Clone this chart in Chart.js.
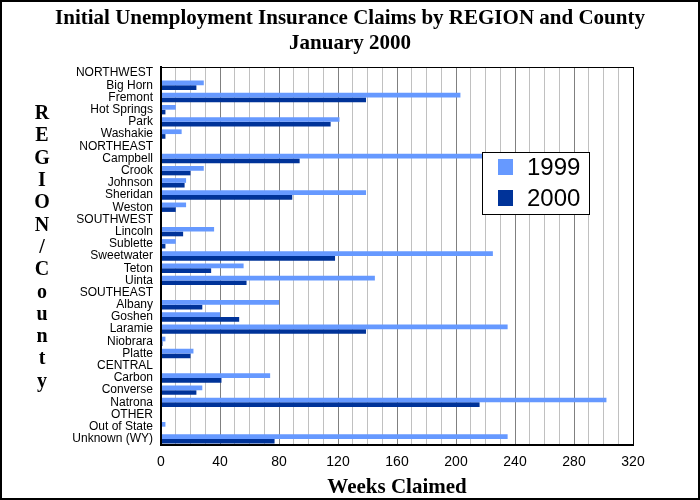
<!DOCTYPE html>
<html lang="en">
<head>
<meta charset="UTF-8">
<title>Initial Unemployment Insurance Claims</title>
<script src="https://cdn.jsdelivr.net/npm/chart.js"></script>
<style>
  body { margin: 0; background: #fff; }
  #grafico { display: block; }
</style>
</head>
<body>
<canvas id="grafico" width="700" height="500"></canvas>
<script>
    // rows of the chart, region headers have no values
    const condados = ['NORTHWEST', 'Big Horn', 'Fremont', 'Hot Springs', 'Park', 'Washakie',
        'NORTHEAST', 'Campbell', 'Crook', 'Johnson', 'Sheridan', 'Weston',
        'SOUTHWEST', 'Lincoln', 'Sublette', 'Sweetwater', 'Teton', 'Uinta',
        'SOUTHEAST', 'Albany', 'Goshen', 'Laramie', 'Niobrara', 'Platte',
        'CENTRAL', 'Carbon', 'Converse', 'Natrona',
        'OTHER', 'Out of State', 'Unknown (WY)'];

    const semanas1999 = [null, 29, 203, 10, 121, 14,
        null, 235, 29, 17, 139, 17,
        null, 36, 10, 225, 56, 145,
        null, 80, 40, 235, 3, 22,
        null, 74, 28, 302,
        null, 3, 235];

    const semanas2000 = [null, 24, 139, 3, 115, 3,
        null, 94, 20, 16, 89, 10,
        null, 15, 3, 118, 34, 58,
        null, 28, 53, 139, 1, 20,
        null, 41, 24, 216,
        null, 0, 77];

    const series = ['1999', '2000'];
    const cores = ['#6699ff', '#003399'];
    const tituloY = 'REGION/County';

    // white background, frame, plot outline, stacked y title, legend
    const fundo = {
        id: 'fundo',
        beforeDraw(chart) {
            const ctx = chart.ctx;
            ctx.save();
            ctx.fillStyle = '#ffffff';
            ctx.fillRect(0, 0, chart.width, chart.height);
            ctx.restore();
        },
        afterDraw(chart) {
            const ctx = chart.ctx;
            const a = chart.chartArea;
            ctx.save();
            ctx.strokeStyle = '#000';
            ctx.lineWidth = 1;
            ctx.strokeRect(a.left + 0.5, a.top + 0.5, a.right - a.left, a.bottom - a.top);
            ctx.lineWidth = 2;
            ctx.strokeRect(1, 1, chart.width - 2, chart.height - 2);

            ctx.fillStyle = '#000';
            ctx.font = 'bold 20px "Liberation Serif"';
            ctx.textAlign = 'center';
            ctx.textBaseline = 'middle';
            const letras = tituloY.split('');
            for (let i = 0; i < letras.length; i++) {
                ctx.fillText(letras[i], 42, 114 + i * 22.3);
            }

            const lx = 482, ly = 152, lw = 107, lh = 62;
            ctx.fillStyle = '#fff';
            ctx.fillRect(lx, ly, lw, lh);
            ctx.lineWidth = 1;
            ctx.strokeStyle = '#000';
            ctx.strokeRect(lx + 0.5, ly + 0.5, lw, lh);
            ctx.font = '24px "Liberation Sans"';
            ctx.textAlign = 'left';
            for (let i = 0; i < series.length; i++) {
                const y = ly + 15 + i * 31;
                ctx.fillStyle = cores[i];
                ctx.fillRect(lx + 16, y - 8, 15, 16);
                ctx.fillStyle = '#000';
                ctx.fillText(series[i], lx + 45, y + 1);
            }
            ctx.restore();
        }
    };

    new Chart(document.getElementById('grafico'), {
        type: 'bar',
        data: {
            labels: condados,
            datasets: [
                { label: series[0], data: semanas1999, backgroundColor: cores[0] },
                { label: series[1], data: semanas2000, backgroundColor: cores[1] }
            ]
        },
        options: {
            indexAxis: 'y',
            responsive: false,
            animation: false,
            devicePixelRatio: 1,
            layout: { padding: 0 },
            datasets: {
                bar: { categoryPercentage: 0.77, barPercentage: 1.0 }
            },
            plugins: {
                legend: { display: false },
                tooltip: { enabled: false },
                title: {
                    display: true,
                    text: ['Initial Unemployment Insurance Claims by REGION and County', 'January 2000'],
                    color: '#000',
                    font: { family: '"Liberation Serif"', size: 21, weight: 'bold', lineHeight: 1.2 },
                    padding: { top: 6, bottom: 10.6 }
                }
            },
            scales: {
                x: {
                    min: 0,
                    max: 320,
                    afterFit(scale) { scale.height = 55; },
                    ticks: {
                        stepSize: 10,
                        autoSkip: false,
                        maxRotation: 0,
                        padding: 9,
                        color: '#000',
                        font: { family: '"Liberation Sans"', size: 14 },
                        callback: v => (v % 40 === 0 ? v : '')
                    },
                    grid: {
                        drawTicks: false,
                        color: c => (c.tick && c.tick.value % 40 === 0 ? '#808080' : '#c0c0c0'),
                        lineWidth: 1
                    },
                    border: { display: true, color: '#000', width: 2 },
                    title: {
                        display: true,
                        text: 'Weeks Claimed',
                        color: '#000',
                        font: { family: '"Liberation Serif"', size: 21, weight: 'bold' },
                        padding: { top: 0, bottom: 0 }
                    }
                },
                y: {
                    afterFit(scale) { scale.width = 161; },
                    ticks: {
                        autoSkip: false,
                        padding: 8,
                        color: '#000',
                        font: { family: '"Liberation Sans"', size: 12 }
                    },
                    grid: { display: false, drawTicks: false },
                    border: { display: true, color: '#000', width: 2 }
                },
                // empty right margin so the title stays centred on the page
                margem: {
                    type: 'linear',
                    axis: 'y',
                    position: 'right',
                    afterFit(scale) { scale.width = 67; },
                    ticks: { display: false },
                    grid: { display: false, drawTicks: false },
                    border: { display: false }
                }
            }
        },
        plugins: [fundo]
    });
</script>
</body>
</html>
